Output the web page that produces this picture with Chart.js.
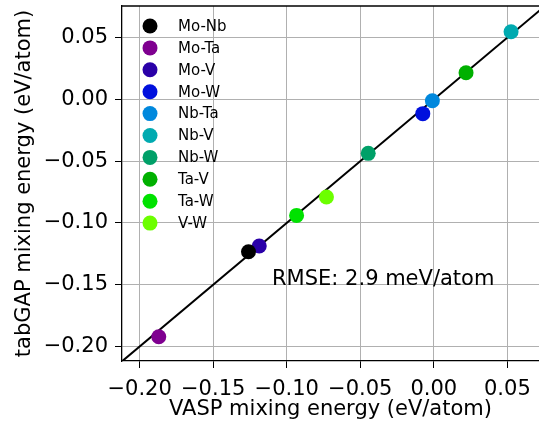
<!DOCTYPE html>
<html>
<head>
<meta charset="utf-8">
<script src="https://cdn.jsdelivr.net/npm/chart.js"></script>
<style>
html, body { margin: 0; padding: 0; background: #fff; }
#wrap { width: 539px; height: 428px; }
</style>
</head>
<body>
<div id="wrap"><canvas id="parityChart" width="539" height="428"></canvas></div>
<script>
// binary systems and their mixing energies (eV/atom)
const systems = ['Mo-Nb', 'Mo-Ta', 'Mo-V', 'Mo-W', 'Nb-Ta', 'Nb-V', 'Nb-W', 'Ta-V', 'Ta-W', 'V-W'];
const vaspEnergy = [-0.126, -0.187, -0.1187, -0.0075, -0.001, 0.0525, -0.0446, 0.0219, -0.0933, -0.073];
const tabgapEnergy = [-0.1233, -0.1921, -0.1187, -0.0116, -0.0011, 0.0547, -0.0437, 0.0215, -0.0939, -0.079];
const systemColors = ['#000000', '#7f0090', '#2a00a8', '#0010dd', '#0088dd', '#00aab0', '#00a068', '#00b000', '#00e200', '#6cff00'];

const xLimits = [-0.212, 0.0715];
const yLimits = [-0.2117, 0.0755];
const diagonal = [-0.212, 0.0755];
const xTicks = [-0.20, -0.15, -0.10, -0.05, 0.00, 0.05];
const yTicks = [-0.20, -0.15, -0.10, -0.05, 0.00, 0.05];
const rmseLabel = 'RMSE: 2.9 meV/atom';
const rmsePos = [-0.11, -0.15];

const FONT = '"DejaVu Sans", sans-serif';

function fmt(v) {
    return v.toFixed(2).replace('-', '\u2212');
}

const datasets = systems.map((name, i) => ({
    type: 'scatter',
    label: name,
    data: [{ x: vaspEnergy[i], y: tabgapEnergy[i] }],
    backgroundColor: systemColors[i],
    pointRadius: 7.5,
    pointHoverRadius: 7.5,
    borderWidth: 0,
    order: 0
}));

// y = x reference line
datasets.push({
    type: 'line',
    label: 'ideal',
    data: diagonal.map(v => ({ x: v, y: v })),
    borderColor: '#000',
    borderWidth: 2,
    pointRadius: 0,
    order: 1
});

// legend inside the plot, top-left, no frame
const pairLegend = {
    id: 'pairLegend',
    afterDraw(chart) {
        const ctx = chart.ctx;
        ctx.save();
        ctx.font = '15px ' + FONT;
        ctx.textBaseline = 'middle';
        systems.forEach((name, i) => {
            const y = 26 + i * 21.9;
            ctx.beginPath();
            ctx.arc(150, y, 7.5, 0, Math.PI * 2);
            ctx.fillStyle = systemColors[i];
            ctx.fill();
            ctx.fillStyle = '#000';
            ctx.fillText(name, 178, y + 1);
        });
        ctx.restore();
    }
};

// top spine + RMSE annotation
const extras = {
    id: 'extras',
    afterDraw(chart) {
        const ctx = chart.ctx;
        const area = chart.chartArea;
        ctx.save();
        ctx.strokeStyle = '#000';
        ctx.lineWidth = 1.3;
        ctx.beginPath();
        ctx.moveTo(area.left, area.top);
        ctx.lineTo(area.right, area.top);
        ctx.stroke();

        ctx.font = '21px ' + FONT;
        ctx.fillStyle = '#000';
        ctx.textBaseline = 'alphabetic';
        ctx.fillText(rmseLabel, chart.scales.x.getPixelForValue(rmsePos[0]), chart.scales.y.getPixelForValue(rmsePos[1]));
        ctx.restore();
    }
};

const ctx = document.getElementById('parityChart').getContext('2d');
const parityChart = new Chart(ctx, {
    data: { datasets: datasets },
    options: {
        responsive: false,
        animation: false,
        layout: { autoPadding: false, padding: { top: 6, right: 0, left: 0, bottom: 0 } },
        plugins: {
            legend: { display: false },
            tooltip: { enabled: false }
        },
        scales: {
            x: {
                type: 'linear',
                min: xLimits[0],
                max: xLimits[1],
                afterBuildTicks: (scale) => { scale.ticks = xTicks.map(v => ({ value: v })); },
                afterFit: (scale) => {
                    scale.height = 67;
                    scale.paddingLeft = 0;
                    scale.paddingRight = 0;
                },
                grid: { color: '#b0b0b0', lineWidth: 1, tickColor: '#000', tickLength: 7, drawTicks: true },
                border: { color: '#000', width: 1.3 },
                ticks: {
                    color: '#000',
                    padding: 9,
                    maxRotation: 0,
                    font: { family: FONT, size: 21 },
                    callback: (v) => fmt(v)
                },
                title: {
                    display: true,
                    text: 'VASP mixing energy (eV/atom)',
                    color: '#000',
                    font: { family: FONT, size: 21 },
                    padding: { top: 0, bottom: 6 }
                }
            },
            y: {
                type: 'linear',
                min: yLimits[0],
                max: yLimits[1],
                afterBuildTicks: (scale) => { scale.ticks = yTicks.map(v => ({ value: v })); },
                afterFit: (scale) => {
                    scale.width = 122;
                    scale.paddingTop = 0;
                    scale.paddingBottom = 0;
                },
                grid: { color: '#b0b0b0', lineWidth: 1, tickColor: '#000', tickLength: 7, drawTicks: true },
                border: { color: '#000', width: 1.3 },
                ticks: {
                    color: '#000',
                    padding: 7,
                    font: { family: FONT, size: 21 },
                    callback: (v) => fmt(v)
                },
                title: {
                    display: true,
                    text: 'tabGAP mixing energy (eV/atom)',
                    color: '#000',
                    font: { family: FONT, size: 21 },
                    padding: { top: 12, bottom: 0 }
                }
            }
        }
    },
    plugins: [pairLegend, extras]
});
</script>
</body>
</html>
